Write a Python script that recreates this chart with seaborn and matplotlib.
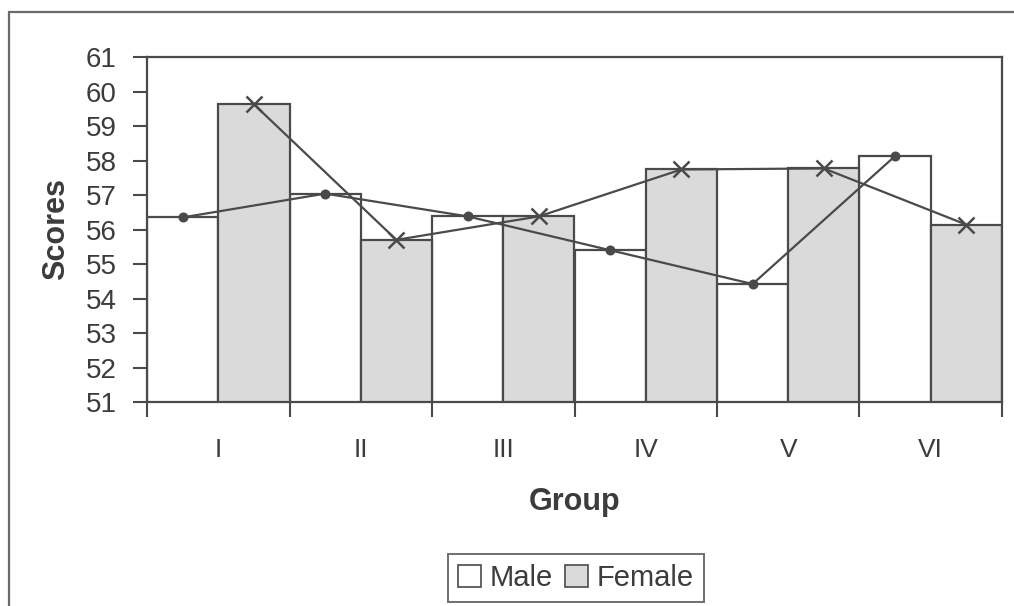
import numpy as np
import pandas as pd
import matplotlib
matplotlib.use("Agg")
import matplotlib.pyplot as plt
from matplotlib.patches import Patch, Rectangle
import seaborn as sns

groups = ["I", "II", "III", "IV", "V", "VI"]
male = [56.35, 57.04, 56.38, 55.40, 54.42, 58.13]
female = [59.63, 55.70, 56.38, 57.74, 57.77, 56.14]
yticks = list(range(51, 62))

df = pd.DataFrame({
    "Group": groups * 2,
    "Sex": ["Male"] * len(groups) + ["Female"] * len(groups),
    "Score": male + female,
})

sns.set_theme(style="white")
plt.rcParams["font.family"] = ["Liberation Sans", "DejaVu Sans"]

INK = "#4a4a4a"
TXT = "#3c3c3c"
FEM = "#dadada"

fig = plt.figure(figsize=(10.14, 6.06), dpi=100)
ax = fig.add_axes([147 / 1014, 1 - 402 / 606, (1002 - 147) / 1014, (402 - 57) / 606])

sns.barplot(data=df, x="Group", y="Score", hue="Sex", order=groups,
            hue_order=["Male", "Female"], palette={"Male": "white", "Female": FEM},
            width=1.0, gap=0, edgecolor=INK, linewidth=1.6, legend=False, ax=ax,
            errorbar=None, zorder=2)

sns.pointplot(data=df, x="Group", y="Score", hue="Sex", order=groups,
              hue_order=["Male", "Female"], palette={"Male": INK, "Female": INK},
              dodge=0.5, markers=["o", "x"], linestyles=["-", "-"],
              errorbar=None, legend=False, ax=ax, markersize=6, linewidth=1.6)
for ln in ax.lines:
    if ln.get_marker() == "x":
        ln.set_markersize(12)
        ln.set_markeredgewidth(1.8)
    ln.set_zorder(4)

ax.set_ylim(51, 61)
ax.set_xlim(-0.5, len(groups) - 0.5)
ax.set_yticks(yticks)
ax.set_yticklabels([str(t) for t in yticks])

# category boundary ticks (major, unlabeled) and centered labels (minor)
ax.set_xticks(np.arange(len(groups) + 1) - 0.5)
ax.set_xticklabels([])
ax.set_xticks(np.arange(len(groups)), minor=True)
ax.set_xticklabels(groups, minor=True)
ax.tick_params(axis="x", which="major", direction="out", length=11, width=1.5,
               color=INK, bottom=True)
ax.tick_params(axis="x", which="minor", length=0, pad=26, labelsize=19, labelcolor=TXT)
ax.tick_params(axis="y", direction="out", length=10, width=1.5, color=INK,
               left=True, pad=12, labelsize=20, labelcolor=TXT)

for s in ax.spines.values():
    s.set_visible(True)
    s.set_color(INK)
    s.set_linewidth(1.6)

ax.set_xlabel("Group", fontsize=22, fontweight="bold", color=TXT, labelpad=18)
ax.set_ylabel("Scores", fontsize=22, fontweight="bold", color=TXT, labelpad=10)
ax.grid(False)

handles = [Patch(facecolor="white", edgecolor=INK, linewidth=1.2, label="Male"),
           Patch(facecolor=FEM, edgecolor=INK, linewidth=1.2, label="Female")]
leg = fig.legend(handles=handles, loc="center", bbox_to_anchor=(576 / 1014, 1 - 578 / 606),
                 ncol=2, fontsize=21, frameon=True, fancybox=False, handlelength=0.8,
                 handleheight=0.8, handletextpad=0.3, columnspacing=0.4,
                 borderpad=0.35, labelcolor=TXT)
leg.get_frame().set_edgecolor(INK)
leg.get_frame().set_linewidth(1.4)

# outer chart frame (extends beyond right/bottom edges)
fig.patches.append(Rectangle((9 / 1014, -0.1), 1.2, 1 - 12 / 606 + 0.1,
                             transform=fig.transFigure, fill=False,
                             edgecolor="#6a6a6a", linewidth=1.6))

fig.savefig("out.png", dpi=100, facecolor="white")
